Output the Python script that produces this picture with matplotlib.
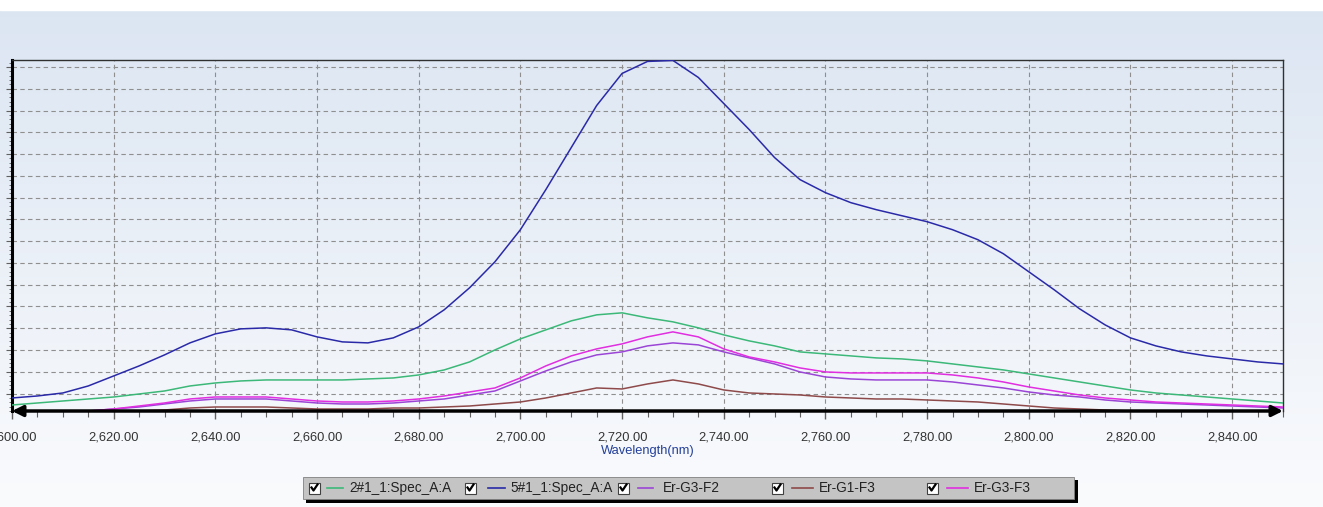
import numpy as np
import matplotlib
matplotlib.use("Agg")
import matplotlib.pyplot as plt
from matplotlib.patches import Rectangle
from matplotlib.lines import Line2D
from matplotlib.ticker import MultipleLocator, FuncFormatter

# ---------------- data ----------------
wavelength = list(range(2600, 2851, 5))

spec_2 = [238, 284, 330, 376, 422, 491, 560, 675, 744, 790, 813, 813, 813, 813, 836, 859,
          928, 1043, 1227, 1503, 1756, 1963, 2170, 2308, 2354, 2239, 2147, 2009, 1848, 1710,
          1595, 1457, 1411, 1365, 1319, 1296, 1250, 1181, 1112, 1043, 951, 859, 767, 675,
          583, 514, 468, 422, 376, 330, 284]

spec_5 = [399, 445, 514, 675, 905, 1135, 1388, 1664, 1871, 1986, 2009, 1963, 1802, 1687,
          1664, 1779, 2032, 2423, 2929, 3527, 4263, 5183, 6149, 7115, 7851, 8127, 8150,
          7759, 7161, 6563, 5919, 5413, 5114, 4884, 4723, 4585, 4447, 4263, 4033, 3711,
          3297, 2883, 2446, 2078, 1779, 1595, 1457, 1365, 1296, 1227, 1181]

er_g3_f2 = [77, 77, 77, 100, 146, 192, 261, 330, 376, 376, 376, 330, 284, 261, 261, 284,
            330, 376, 468, 560, 790, 1020, 1227, 1388, 1457, 1595, 1664, 1618, 1457, 1319,
            1181, 997, 882, 836, 813, 813, 813, 767, 698, 629, 537, 468, 422, 353, 307,
            284, 261, 238, 215, 192, 169]

er_g1_f3 = [31, 31, 54, 54, 77, 100, 123, 169, 192, 192, 192, 169, 146, 146, 146, 169,
            169, 192, 215, 261, 307, 399, 514, 629, 606, 721, 813, 721, 583, 514, 491,
            468, 422, 399, 376, 376, 353, 330, 307, 261, 215, 169, 146, 123, 100, 100,
            77, 77, 77, 54, 54]

er_g3_f3 = [54, 77, 77, 100, 146, 215, 284, 376, 422, 422, 422, 376, 330, 307, 307, 330,
            376, 445, 537, 629, 859, 1135, 1365, 1526, 1641, 1802, 1917, 1802, 1526, 1342,
            1227, 1089, 997, 974, 974, 974, 974, 928, 859, 767, 652, 560, 468, 399, 353,
            307, 284, 261, 238, 215, 192]

series_names = ["2#1_1:Spec_A:A", "5#1_1:Spec_A:A", "Er-G3-F2", "Er-G1-F3", "Er-G3-F3"]
series_values = [spec_2, spec_5, er_g3_f2, er_g1_f3, er_g3_f3]
series_colors = ["#3cb878", "#2a2aa8", "#9b45d6", "#8e4a4a", "#e02ee0"]

x_ticks = list(range(2600, 2841, 20))
xlabel = "Wavelength(nm)"

# ---------------- figure ----------------
W, H = 1323, 507
fig = plt.figure(figsize=(W / 100, H / 100), dpi=100)

def fx(px):
    return px / W

def fy(py):
    return (H - py) / H

# background gradient
bg = fig.add_axes([0, 0, 1, 1], zorder=-10)
bg.set_axis_off()
top_c = np.array([0xdb, 0xe5, 0xf2]) / 255
bot_c = np.array([0xfa, 0xfb, 0xfd]) / 255
t = np.linspace(0, 1, 256)[:, None]
grad = top_c[None, :] * (1 - t) + bot_c[None, :] * t
bg.imshow(grad[:, None, :], aspect="auto", extent=[0, 1, 0, 1], origin="upper")
bg.add_patch(Rectangle((0, fy(10)), 1, 1 - fy(10), color="white", transform=bg.transAxes))
bg.set_xlim(0, 1)
bg.set_ylim(0, 1)

ax = fig.add_axes([fx(12), fy(411), fx(1283) - fx(12), fy(60) - fy(411)])
ax.set_facecolor("none")

for vals, col, name in zip(series_values, series_colors, series_names):
    ax.plot(wavelength, vals, color=col, lw=1.1, label=name, zorder=3)

ax.set_xlim(2600, 2850)
ax.set_ylim(100, 8160)
ax.set_xticks(x_ticks)
ax.xaxis.set_major_formatter(FuncFormatter(lambda v, p: f"{v:,.2f}"))
ax.xaxis.set_minor_locator(MultipleLocator(5))
ax.yaxis.set_major_locator(MultipleLocator(500))
ax.yaxis.set_minor_locator(MultipleLocator(100))
ax.set_yticklabels([])
ax.tick_params(axis="x", which="major", length=6, width=1, color="#606060", pad=9,
               labelsize=9.3, labelcolor="#333333")
ax.tick_params(axis="x", which="minor", length=4, width=0.8, color="#606060")
ax.tick_params(axis="y", which="major", length=4, width=0.8, color="#606060")
ax.tick_params(axis="y", which="minor", length=2, width=0.6, color="#606060")
for lab in ax.get_xticklabels():
    lab.set_fontfamily("Liberation Sans")

ax.grid(True, which="major", linestyle=(0, (4, 3)), color="#8f8f8f", lw=0.8)

for s in ["top", "right"]:
    ax.spines[s].set_color("#303030")
    ax.spines[s].set_linewidth(1.0)
ax.spines["left"].set_color("black")
ax.spines["left"].set_linewidth(2.2)
ax.spines["bottom"].set_visible(False)

ax.annotate("", xy=(0, 0), xytext=(1, 0), xycoords="axes fraction",
            arrowprops=dict(arrowstyle="<|-|>", lw=2.5, color="black",
                            mutation_scale=16, shrinkA=0, shrinkB=0), zorder=5)

fig.text(fx(648), fy(451), xlabel, ha="center", va="center", fontsize=9.3,
         color="#24409a", family="Liberation Sans")

# ---------------- legend (drawn manually) ----------------
fig.patches.append(Rectangle((fx(306), fy(503)), fx(1078) - fx(306), fy(480) - fy(503),
                             transform=fig.transFigure, facecolor="black", edgecolor="none",
                             zorder=5))
fig.patches.append(Rectangle((fx(303), fy(499)), fx(1074) - fx(303), fy(477) - fy(499),
                             transform=fig.transFigure, facecolor="#c4c4c4",
                             edgecolor="#808080", lw=0.6, zorder=6))

box_x = [309, 465, 618, 772, 927]
line_x = [(327, 343), (488, 505), (638, 653), (792, 813), (947, 968)]
text_x = [349, 510, 663, 819, 974]
ymid = 488
for bx, (l0, l1), tx, col, name in zip(box_x, line_x, text_x, series_colors, series_names):
    fig.patches.append(Rectangle((fx(bx), fy(ymid + 6)), fx(11), 11 / H,
                                 transform=fig.transFigure, facecolor="white",
                                 edgecolor="#404040", lw=0.8, zorder=7))
    fig.lines.append(Line2D([fx(bx + 2.5), fx(bx + 4.5), fx(bx + 8.5)],
                            [fy(ymid - 0.5), fy(ymid + 2.5), fy(ymid - 3.5)],
                            transform=fig.transFigure, color="black", lw=1.6, zorder=8))
    fig.lines.append(Line2D([fx(l0), fx(l1)], [fy(ymid), fy(ymid)],
                            transform=fig.transFigure, color=col, lw=1.2, zorder=8))
    fig.text(fx(tx), fy(ymid), name, ha="left", va="center", fontsize=9.8,
             color="#222222", family="Liberation Sans", zorder=8)

fig.savefig("out.png", dpi=100)
